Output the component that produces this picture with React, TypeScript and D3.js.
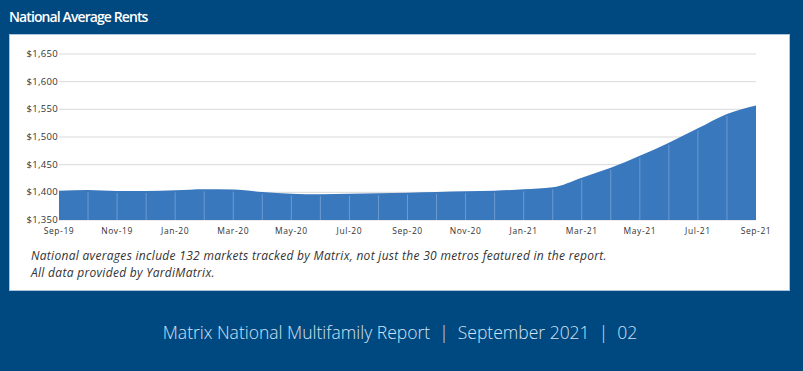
import { useEffect, useRef } from "react";
import * as d3 from "d3";

const width = 803;
const height = 371;
const margin = { top: 54, right: 47, bottom: 151, left: 59 };

const months = [
  "Sep-19", "Oct-19", "Nov-19", "Dec-19", "Jan-20", "Feb-20", "Mar-20", "Apr-20", "May-20",
  "Jun-20", "Jul-20", "Aug-20", "Sep-20", "Oct-20", "Nov-20", "Dec-20", "Jan-21", "Feb-21",
  "Mar-21", "Apr-21", "May-21", "Jun-21", "Jul-21", "Aug-21", "Sep-21",
];
const rents = [
  1403, 1404, 1402.5, 1402.5, 1403.6, 1405.4, 1405, 1400.6, 1397.6,
  1396.5, 1397.6, 1398.2, 1399.4, 1400.6, 1401.8, 1403, 1405.4, 1409,
  1426.5, 1444.5, 1466, 1489.7, 1515.6, 1541.6, 1557,
];
const yTicks = [1350, 1400, 1450, 1500, 1550, 1600, 1650];
const notes = [
  "National averages include 132 markets tracked by Matrix, not just the 30 metros featured in the report.",
  "All data provided by YardiMatrix.",
];

const App = () => {
  const ref = useRef<SVGSVGElement>(null);

  useEffect(() => {
    const svg = d3.select(ref.current);
    svg.selectAll("*").remove();

    svg.append("rect").attr("width", width).attr("height", height).attr("fill", "#004880");
    svg.append("text")
      .attr("x", 9).attr("y", 22)
      .attr("fill", "#fff")
      .attr("font-family", "'Open Sans', sans-serif")
      .attr("font-size", 14).attr("font-weight", 600)
      .attr("letter-spacing", -0.9)
      .text("National Average Rents");

    svg.append("rect")
      .attr("x", 9.5).attr("y", 34.5).attr("width", 780).attr("height", 256)
      .attr("fill", "#fff").attr("stroke", "#a9c4df");

    const x = d3.scalePoint<string>().domain(months).range([margin.left, width - margin.right]);
    const y = d3.scaleLinear().domain([1350, 1650]).range([height - margin.bottom, margin.top]);

    const g = svg.append("g");
    g.selectAll("line.grid").data(yTicks).join("line")
      .attr("x1", margin.left).attr("x2", width - margin.right)
      .attr("y1", (d) => y(d)).attr("y2", (d) => y(d))
      .attr("stroke", "#d9d9d9").attr("stroke-width", 1);

    const area = d3.area<number>()
      .x((_, i) => x(months[i])!)
      .y0(y(1350)).y1((d) => y(d))
      .curve(d3.curveMonotoneX);
    g.append("path").datum(rents).attr("d", area).attr("fill", "#3978bd");

    // thin month separators inside the area
    g.selectAll("line.sep").data(rents.slice(1, -1)).join("line")
      .attr("x1", (_, i) => x(months[i + 1])!).attr("x2", (_, i) => x(months[i + 1])!)
      .attr("y1", (d) => y(d) + 2).attr("y2", y(1350))
      .attr("stroke", "#6d9ad0").attr("stroke-width", 1);

    g.selectAll("text.ylab").data(yTicks).join("text")
      .attr("x", margin.left - 1).attr("y", (d) => y(d) + 3)
      .attr("text-anchor", "end")
      .attr("font-family", "'Open Sans', sans-serif").attr("font-size", 9.5)
      .attr("letter-spacing", 0.3)
      .attr("fill", "#333")
      .text((d) => d3.format("$,")(d));

    g.selectAll("text.xlab").data(months.filter((_, i) => i % 2 === 0)).join("text")
      .attr("x", (d) => x(d)!).attr("y", y(1350) + 13.5)
      .attr("text-anchor", "middle")
      .attr("font-family", "'Open Sans', sans-serif").attr("font-size", 8.5)
      .attr("letter-spacing", 0.6)
      .attr("fill", "#333")
      .text((d) => d);

    svg.selectAll("text.note").data(notes).join("text")
      .attr("x", 31).attr("y", (_, i) => 260 + i * 17)
      .attr("font-family", "'Open Sans', sans-serif").attr("font-size", 12)
      .attr("letter-spacing", 0.3)
      .attr("font-style", "italic").attr("fill", "#333")
      .text((d) => d);

    svg.append("text")
      .attr("x", 400).attr("y", 339)
      .attr("text-anchor", "middle")
      .attr("fill", "#d2e3f3")
      .attr("font-family", "'Open Sans', sans-serif").attr("font-size", 17.5).attr("font-weight", 300)
      .attr("xml:space", "preserve")
      .text("Matrix National Multifamily Report  |  September 2021  |  02");
  }, []);

  return (
    <svg ref={ref} width={width} height={height} style={{ position: "absolute", left: 0, top: 0 }} />
  );
};

export default App;
